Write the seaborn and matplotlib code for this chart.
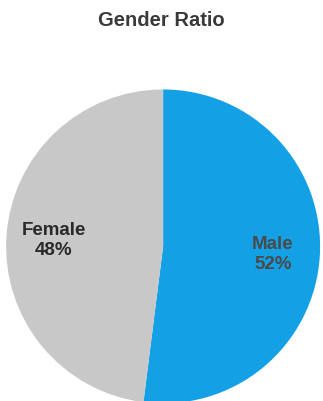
import matplotlib
matplotlib.use("Agg")
import matplotlib.pyplot as plt
import seaborn as sns

labels = ["Male", "Female"]
shares = [52, 48]
colors = ["#13A0E5", "#C8C8C8"]
text_colors = ["#4a4a4a", "#2a2a2a"]

sns.set_theme(style="white")
plt.rcParams["font.family"] = ["Liberation Sans", "DejaVu Sans"]

fig = plt.figure(figsize=(3.23, 4.02), dpi=100)
ax = fig.add_axes([0.019, -0.006, 0.972, 0.781])

wedges, _, autotexts = ax.pie(
    shares,
    colors=colors,
    startangle=90,
    counterclock=False,
    autopct=lambda p: "",
    pctdistance=0.7,
    wedgeprops=dict(linewidth=0),
)
for t, lab, val, c in zip(autotexts, labels, shares, text_colors):
    t.set_text(f"{lab}\n{val}%")
    t.set_fontsize(13.5)
    t.set_fontweight("bold")
    t.set_color(c)
    t.set_linespacing(1.25)
ax.set_xlim(-1, 1)
ax.set_ylim(-1, 1)
ax.set_aspect("equal")
ax.axis("off")

fig.text(0.5, 0.948, "Gender Ratio", ha="center", va="center",
         fontsize=14.5, fontweight="bold", color="#3a3a3a")

fig.savefig("out.png", dpi=100)
